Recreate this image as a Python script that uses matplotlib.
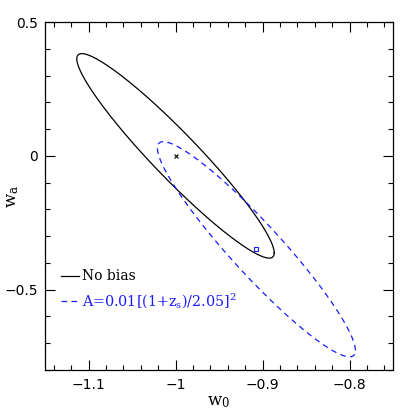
import matplotlib
matplotlib.use('Agg')
import matplotlib.pyplot as plt
import numpy as np

plt.rcParams['mathtext.fontset'] = 'dejavuserif'

# ellipse params: centre (w0, wa), sigma_w0, sigma_wa, correlation
nobias_c = (-1.0, 0.0)
nobias_s = (0.1135, 0.382)
nobias_rho = -0.949

bias_c = (-0.907, -0.349)
bias_s = (0.1138, 0.402)
bias_rho = -0.94

labels = ['No bias', r'A=0.01[(1+z$_{\rm s}$)/2.05]$^2$']
xticks = [-1.1, -1.0, -0.9, -0.8]
xticklabels = ['\u22121.1', '\u22121', '\u22120.9', '\u22120.8']
yticks = [-0.5, 0.0, 0.5]
yticklabels = ['\u22120.5', '0', '0.5']

def ellipse(c, s, rho):
	t = np.linspace(0, 2*np.pi, 400)
	x = c[0] + s[0]*np.cos(t)
	y = c[1] + s[1]*(rho*np.cos(t) + np.sqrt(1 - rho**2)*np.sin(t))
	return x, y

blue = '#1a1aff'
fig = plt.figure(figsize=(4.15, 4.15), dpi=100)
ax = fig.add_axes([45/415, 1 - 370/415, 348/415, 348/415])

x, y = ellipse(nobias_c, nobias_s, nobias_rho)
ax.plot(x, y, color='black', lw=0.9)
x, y = ellipse(bias_c, bias_s, bias_rho)
ax.plot(x, y, color=blue, lw=0.9, dashes=(4.5, 3.5))

ax.plot([nobias_c[0]], [nobias_c[1]], marker='x', color='black', ms=3, mew=0.8)
ax.plot([bias_c[0]], [bias_c[1]], marker='s', mfc='none', mec=blue, ms=3.5, mew=0.8)

# legend drawn by hand in data coords
ax.plot([-1.1314, -1.111], [-0.448, -0.448], color='black', lw=0.9)
ax.text(-1.107, -0.448, labels[0], family='DejaVu Serif', fontsize=10, va='center', ha='left')
ax.plot([-1.1314, -1.111], [-0.544, -0.544], color=blue, lw=0.9, dashes=(4.5, 3.5))
ax.text(-1.107, -0.544, labels[1], family='DejaVu Serif', fontsize=10.3, va='center', ha='left', color=blue)

ax.set_xlim(-1.15, -0.75)
ax.set_ylim(-0.8, 0.5)
ax.set_xticks(xticks)
ax.set_xticklabels(xticklabels)
ax.set_yticks(yticks)
ax.set_yticklabels(yticklabels)
ax.set_xticks(np.arange(-1.14, -0.75, 0.02), minor=True)
ax.set_yticks(np.arange(-0.8, 0.51, 0.1), minor=True)
ax.tick_params(which='both', direction='in', top=True, right=True, labelsize=10)
ax.tick_params(which='major', length=7, width=0.8)
ax.tick_params(which='minor', length=3.6, width=0.8)
ax.tick_params(axis='x', pad=6)
ax.tick_params(axis='y', pad=5)
for sp in ax.spines.values():
	sp.set_linewidth(0.9)

# axis labels placed in figure pixels
fig.text(219/415, 1 - 401/415, r'$\mathrm{w}_0$', fontsize=12, ha='center', va='center')
fig.text(12/415, 1 - 196/415, r'$\mathrm{w}_\mathrm{a}$', fontsize=12, ha='center', va='center', rotation=90)

fig.savefig('out.png', dpi=100)
